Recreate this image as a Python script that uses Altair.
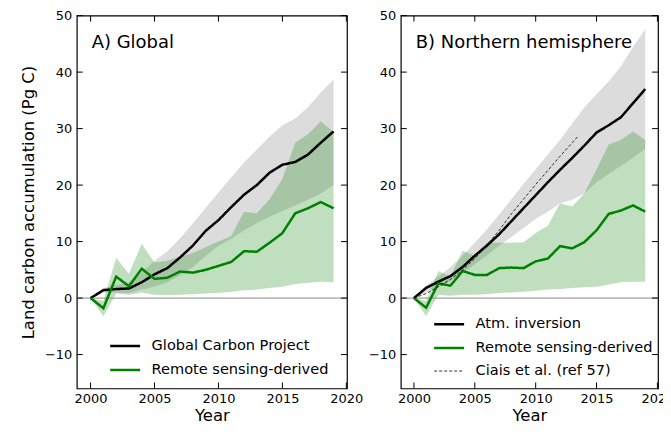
import altair as alt
import pandas as pd

years = list(range(2000, 2020))

# Panel A (Global)
gcp_a = [0, 1.4, 1.6, 1.7, 2.8, 4.2, 5.3, 7.2, 9.3, 11.9, 13.8, 16.1, 18.3, 20.0, 22.2, 23.6, 24.1, 25.4, 27.5, 29.5]
gcp_a_lo = [0, 1.0, 1.0, 0.9, 1.5, 2.0, 2.8, 4.0, 5.5, 7.5, 9.2, 10.5, 12.0, 13.3, 14.4, 15.4, 16.4, 17.4, 18.5, 20.0]
gcp_a_hi = [0, 1.8, 2.3, 2.8, 4.5, 6.6, 8.3, 10.6, 13.2, 16.0, 18.7, 21.4, 24.0, 26.3, 28.6, 30.6, 31.8, 33.8, 36.4, 38.7]
rs_a = [0, -1.8, 3.8, 2.1, 5.2, 3.4, 3.6, 4.7, 4.5, 5.0, 5.7, 6.4, 8.3, 8.2, 9.8, 11.5, 15.0, 15.9, 17.0, 15.9]
rs_a_lo = [0, -3.2, 0.8, 0.6, 1.0, 0.6, 0.5, 0.6, 0.7, 0.8, 0.9, 1.1, 1.4, 1.5, 1.8, 2.0, 2.5, 2.7, 2.9, 2.8]
rs_a_hi = [0, -0.5, 7.1, 4.3, 9.6, 6.3, 6.6, 7.3, 8.0, 9.0, 10.0, 11.0, 15.3, 15.0, 17.5, 21.1, 27.5, 29.0, 31.3, 29.4]

# Panel B (Northern hemisphere)
inv_b = [0, 1.8, 2.9, 3.9, 5.5, 7.5, 9.3, 11.3, 13.6, 15.9, 18.2, 20.5, 22.7, 24.8, 27.0, 29.3, 30.6, 32.0, 34.5, 37.0]
inv_b_lo = [0, 1.0, 2.0, 3.0, 4.4, 6.0, 7.6, 9.3, 10.8, 12.4, 14.0, 15.3, 16.8, 17.4, 18.5, 20.5, 22.0, 23.4, 24.9, 26.4]
inv_b_hi = [0, 2.2, 3.8, 5.5, 7.5, 9.8, 12.2, 14.8, 17.5, 20.2, 22.8, 25.4, 28.0, 30.9, 33.8, 36.1, 38.4, 41.0, 44.5, 47.6]
rs_b = [0, -1.7, 2.6, 2.2, 4.8, 4.1, 4.1, 5.3, 5.4, 5.3, 6.5, 7.0, 9.2, 8.8, 9.9, 12.0, 14.9, 15.5, 16.4, 15.3]
rs_b_lo = [0, -3.2, 0.6, 0.4, 0.6, 0.6, 0.7, 0.9, 1.0, 1.1, 1.3, 1.5, 1.6, 1.8, 1.9, 2.0, 2.4, 2.8, 2.9, 2.9]
rs_b_hi = [0, -0.5, 4.8, 3.8, 8.4, 7.5, 9.8, 9.8, 9.8, 9.9, 11.5, 12.8, 16.8, 16.2, 18.5, 22.8, 27.2, 28.0, 29.5, 28.0]
ciais_years = [2000, 2001, 2002, 2003, 2004, 2005, 2006, 2007, 2008, 2009, 2010, 2011, 2012, 2013, 2013.5]
ciais_b = [0, 0.8, 2.0, 3.3, 5.0, 7.0, 9.4, 12.0, 14.9, 17.5, 20.1, 22.6, 25.1, 27.5, 28.7]

x_ticks = [2000, 2005, 2010, 2015, 2020]
y_ticks = [-10, 0, 10, 20, 30, 40, 50]

FONT = "DejaVu Sans"
GREEN = "#008000"
H = 374
TICK = 6

xscale = alt.Scale(domain=[1998.92, 2020.05], nice=False, zero=False)
yscale = alt.Scale(domain=[-16, 50], nice=False, zero=False)


def panel(title, width, band_lo, band_hi, band2_lo, band2_hi, lines_df, color_dom, color_rng,
          dash_rng, width_rng, legend_x, legend_y, show_ytitle):
    band = pd.DataFrame({"year": years, "glo": band_lo, "ghi": band_hi,
                         "rlo": band2_lo, "rhi": band2_hi})
    xaxis = alt.Axis(values=x_ticks, format="d", tickSize=0, labelPadding=4, domain=False,
                     grid=False, title="Year", titlePadding=2, labelFlush=False)
    yaxis = alt.Axis(values=y_ticks, format="d", tickSize=0, labelPadding=5, domain=False,
                     grid=False, title="Land carbon accumulation (Pg C)" if show_ytitle else None,
                     titlePadding=8, labelFlush=False)
    X = alt.X("year:Q", scale=xscale, axis=xaxis)

    gray = alt.Chart(band).mark_area(color="#808080", opacity=0.28).encode(
        x=X, y=alt.Y("glo:Q", scale=yscale, axis=yaxis), y2="ghi:Q")
    green = alt.Chart(band).mark_area(color=GREEN, opacity=0.25).encode(
        x=X, y=alt.Y("rlo:Q", scale=yscale), y2="rhi:Q")

    zero = alt.Chart(pd.DataFrame({"z": [0]})).mark_rule(color="#8c8c8c", strokeWidth=1).encode(
        y=alt.Y("z:Q", scale=yscale))

    leg = alt.Legend(title=None, orient="none", legendX=legend_x, legendY=legend_y,
                     labelFontSize=14.6, labelFont=FONT, labelColor="black", symbolType="stroke",
                     symbolSize=900, labelOffset=10, rowPadding=-8,
                     padding=0, labelLimit=400)
    enc = dict(
        x=alt.X("year:Q", scale=xscale),
        y=alt.Y("value:Q", scale=yscale),
        color=alt.Color("series:N", scale=alt.Scale(domain=color_dom, range=color_rng),
                        legend=leg, sort=color_dom),
        strokeDash=alt.StrokeDash("series:N",
                                  scale=alt.Scale(type="ordinal", domain=color_dom, range=dash_rng),
                                  legend=leg, sort=color_dom),
        strokeWidth=alt.StrokeWidth("series:N",
                                    scale=alt.Scale(type="ordinal", domain=color_dom, range=width_rng),
                                    legend=leg, sort=color_dom),
        detail="series:N",
    )
    lines = alt.Chart(lines_df).mark_line().encode(**enc)

    tx = pd.DataFrame({"v": x_ticks})
    ty = pd.DataFrame({"v": y_ticks})
    tb = alt.Chart(tx).mark_rule(color="black", strokeWidth=1).encode(
        x=alt.X("v:Q", scale=xscale), y=alt.value(H), y2=alt.value(H - TICK))
    tt = alt.Chart(tx).mark_rule(color="black", strokeWidth=1).encode(
        x=alt.X("v:Q", scale=xscale), y=alt.value(0), y2=alt.value(TICK))
    tl = alt.Chart(ty).mark_rule(color="black", strokeWidth=1).encode(
        y=alt.Y("v:Q", scale=yscale), x=alt.value(0), x2=alt.value(TICK))
    tr = alt.Chart(ty).mark_rule(color="black", strokeWidth=1).encode(
        y=alt.Y("v:Q", scale=yscale), x=alt.value(width - TICK), x2=alt.value(width))

    label = alt.Chart(pd.DataFrame({"t": [title]})).mark_text(
        align="left", baseline="middle", fontSize=18, font=FONT, color="black").encode(
        x=alt.value(15), y=alt.value(27), text="t:N")

    return alt.layer(gray, green, zero, lines, tb, tt, tl, tr, label).properties(
        width=width, height=H)


a_dom = ["Global Carbon Project", "Remote sensing-derived"]
lines_a = pd.DataFrame({
    "year": years + years,
    "value": gcp_a + rs_a,
    "series": [a_dom[0]] * len(years) + [a_dom[1]] * len(years),
})
b_dom = ["Atm. inversion", "Remote sensing-derived", "Ciais et al. (ref 57)"]
lines_b = pd.DataFrame({
    "year": years + years + ciais_years,
    "value": inv_b + rs_b + ciais_b,
    "series": [b_dom[0]] * len(years) + [b_dom[1]] * len(years) + [b_dom[2]] * len(ciais_years),
})

pa = panel("A) Global", 271, gcp_a_lo, gcp_a_hi, rs_a_lo, rs_a_hi, lines_a, a_dom,
           ["black", GREEN], [[1, 0], [1, 0]], [2.5, 2.5], 32, 315, True)
pb = panel("B) Northern hemisphere", 258, inv_b_lo, inv_b_hi, rs_b_lo, rs_b_hi, lines_b, b_dom,
           ["black", GREEN, "black"], [[1, 0], [1, 0], [3, 2]], [2.5, 2.5, 0.8], 32, 293, False)

chart = alt.hconcat(pa, pb, spacing=54, bounds="flush").resolve_scale(
    color="independent", strokeDash="independent", strokeWidth="independent",
    x="independent", y="independent"
).resolve_legend(
    color="independent", strokeDash="independent", strokeWidth="independent"
).properties(
    padding={"left": 11, "top": 0, "right": -12, "bottom": 0}
).configure(font=FONT).configure_view(
    stroke="black", strokeWidth=1.2
).configure_axis(
    labelFontSize=13, labelFont=FONT, labelColor="black", titleFontSize=16.5,
    titleFont=FONT, titleColor="black", titleFontWeight="normal"
)

chart.save("out.html", embed_options={"renderer": "svg", "actions": False})
